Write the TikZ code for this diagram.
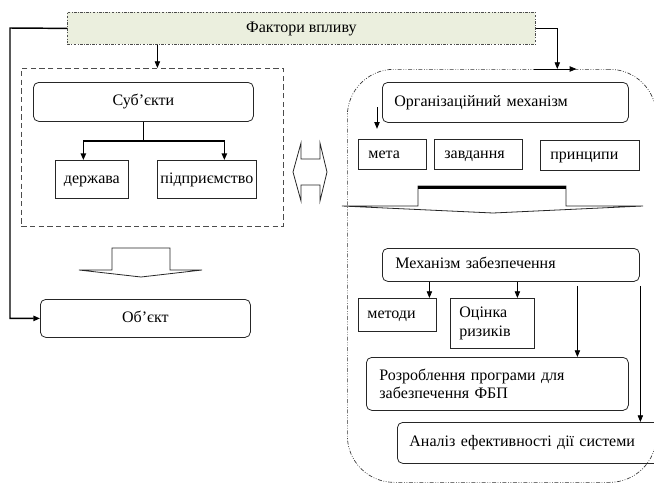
\documentclass[tikz,border=0pt]{standalone}
\usepackage{fontspec}
\setmainfont{Liberation Serif}
\usetikzlibrary{arrows.meta,calc}
\definecolor{factorfill}{RGB}{235,239,222}

\tikzset{
	box/.style={draw=black!85, line width=0.6pt, rectangle, anchor=north west, inner sep=0pt, font=\fontsize{12}{14}\selectfont},
	oneline/.style={text height=8.2pt, text depth=2.6pt},
	rbox/.style={box, rounded corners=4pt},
	lbox/.style={box, align=left},
	conn/.style={line width=0.6pt, -{Triangle[length=5pt,width=4pt]}},
	thickconn/.style={conn, line width=1.1pt}
}

\begin{document}
\begin{tikzpicture}[x=0.75pt, y=-0.75pt]
			%%%%% START %%%%%
			\useasboundingbox (0,0) rectangle (654,486);
			
			\node[box, oneline, fill=factorfill, draw=black!70, dash pattern=on 2pt off 1pt on 0.7pt off 1pt, minimum width=351pt, minimum height=24pt] (factors) at (67,12) {Фактори впливу};
			
			% left part
			\node[box, draw=black!70, dash pattern=on 4pt off 2.5pt, minimum width=196.5pt, minimum height=118.5pt] (subjframe) at (21,68) {};
			\node[rbox, oneline, minimum width=165pt, minimum height=29.25pt] (subj) at (33,82) {Суб’єкти};
			\node[box, oneline, minimum width=54.75pt, minimum height=28.5pt] (derzh) at (55,160) {держава};
			\node[box, oneline, minimum width=74.25pt, minimum height=28.5pt] (pidpr) at (157,160) {підприємство};
			\node[rbox, oneline, minimum width=157.5pt, minimum height=28.5pt] (object) at (40,299) {Об’єкт};
			
			\draw[line width=0.6pt, draw=black!85] (79,270) -- (112,270) -- (112,248) -- (170,248) -- (170,270) -- (202,270) -- (141,277) -- cycle;
			\draw[line width=0.6pt, draw=black!85] (293,172) -- (301,143) -- (301,159) -- (320,159) -- (320,143) -- (327,172) -- (320,201) -- (320,185) -- (301,185) -- (301,201) -- cycle;
			
			% right part
			\node[box, draw=black!80, line width=0.5pt, dash pattern=on 3pt off 1.2pt on 0.6pt off 1.2pt on 0.6pt off 1.2pt, rounded corners=35pt, minimum width=231.75pt, minimum height=309.75pt] (orgframe) at (347,69) {};
			\node[rbox, oneline, align=left, inner xsep=9pt, text width=166.5pt, minimum height=30pt] (org) at (382,82) {Організаційний механізм};
			\node[lbox, oneline, inner xsep=7.5pt, text width=36pt, minimum height=22.5pt] (meta) at (358,139) {мета};
			\node[lbox, oneline, inner xsep=7.5pt, text width=51pt, minimum height=22.5pt] (zavd) at (434,139) {завдання};
			\node[lbox, oneline, inner xsep=7.5pt, text width=59.25pt, minimum height=22.5pt] (pryn) at (540,140) {принципи};
			
			\draw[line width=0.6pt, draw=black!85] (342,206) -- (418,206) -- (418,186) -- (566,186) -- (566,206) -- (643,206) -- (493,213) -- cycle;
			\draw[line width=2.2pt] (418,187.5) -- (566,187.5);
			
			\node[rbox, oneline, align=left, inner xsep=9.75pt, text width=173.25pt, minimum height=24.75pt] (mech) at (382,248) {Механізм забезпечення};
			\node[lbox, oneline, inner xsep=6.75pt, text width=45pt, minimum height=24.75pt] (metody) at (358,298) {методи};
			\node[lbox, inner xsep=6.75pt, text width=49.5pt, minimum height=37.5pt] (otsinka) at (450,298) {Оцінка\\ризиків};
			\node[rbox, align=left, inner xsep=9.75pt, text width=177pt, minimum height=39.75pt] (rozrob) at (366,357) {Розроблення програми для\\забезпечення ФБП};
			\node[rbox, oneline, align=left, inner xsep=9pt, text width=179.25pt, minimum height=30.75pt] (analiz) at (397,422) {Аналіз ефективності дії системи};
			
			% connectors
			\coordinate (lbend) at (10,28);
			\draw[thickconn] (factors.west) -- (lbend) |- (object.west);
			\draw[conn] (factors.east) -| ($(orgframe.north)+(41.6pt,0)$);
			\draw[conn] ($(orgframe.north)+(24.4pt,0)$) -- ($(orgframe.north)+(55.9pt,0)$);
			\draw[conn] ($(factors.south -| subjframe.north)+(3.75pt,0)$) -- ($(subjframe.north)+(3.75pt,0)$);
			
			\draw[thickconn, -] (subj.south) -- ++(0,19) coordinate (fork);
			\draw[thickconn] (fork) -| ($(derzh.north)+(-6.4pt,0)$);
			\draw[thickconn] (fork) -| ($(pidpr.north)+(13.1pt,0)$);
			
			\draw[conn] ($(org.west)+(-3.75pt,-3.75pt)$) -- ($(org.south west)+(-3.75pt,-4.5pt)$);
			
			\draw[conn] ($(mech.south -| metody.north)+(24pt,0)$) -- ($(metody.north)+(24pt,0)$);
			\draw[conn] ($(mech.south -| otsinka.north)+(18.75pt,0)$) -- ($(otsinka.north)+(18.75pt,0)$);
			\draw[conn] ($(mech.south -| rozrob.north)+(60pt,-3pt)$) -- ($(rozrob.north)+(60pt,0)$);
			\draw[conn] ($(mech.south -| analiz.north)+(83.6pt,-3pt)$) -- ($(analiz.north)+(83.6pt,0)$);
			
			%%%%% END %%%%%
\end{tikzpicture}
\end{document}
